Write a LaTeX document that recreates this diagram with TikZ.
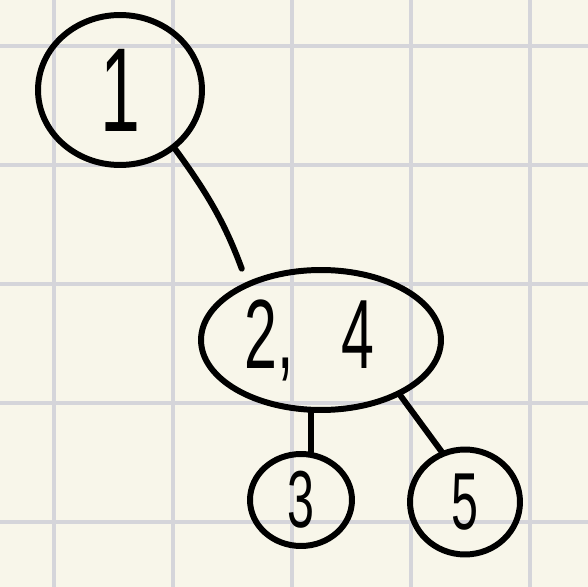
\documentclass[tikz,border=0pt]{standalone}
\usepackage{fontspec}
\setmainfont{Liberation Sans}
\usepackage{graphicx}
\usetikzlibrary{shapes.geometric}
\definecolor{paper}{HTML}{F8F6EA}
\definecolor{gridgray}{HTML}{D5D5DA}
\newcommand{\digits}[2]{\scalebox{0.6}[1]{\fontsize{#1}{#1}\selectfont #2}}

\begin{document}
\begin{tikzpicture}[
    x=0.02cm, y=-0.02cm,
    vtx/.style={
        draw,
        ellipse,
        line width=3.4pt,
        inner sep=0pt
    },
    edge/.style={line width=3.4pt, line cap=round}
]
\fill[paper] (0,0) rectangle (588,587);
\useasboundingbox (0,0) rectangle (588,587);

%==========================
% grid paper
%==========================
\foreach \g in {54,173,292,411,530}{
    \draw[gridgray, line width=2pt] (\g,0) -- (\g,587);
    \draw[gridgray, line width=2pt] (0,\g-8) -- (588,\g-8);
}

%==========================
% tree
%==========================
\node[vtx, minimum width=3.28cm, minimum height=3.0cm] (n1) at (120,90)
{\digits{68pt}{1}};
\node[vtx, minimum width=4.8cm, minimum height=2.8cm] (n24) at (321,340)
{\digits{56pt}{2,\hspace{0.8em}4\hspace{0.4em}}};
\node[vtx, minimum width=2.04cm, minimum height=1.84cm] (n3) at (301,500)
{\digits{46pt}{3}};
\node[vtx, minimum width=2.2cm, minimum height=2.1cm] (n5) at (465,502)
{\digits{46pt}{5}};

\draw[edge, shorten >=8pt] (n1.-47) to[bend left=8] (n24.142);
\draw[edge] (n3.78) -- (n3.78 |- n24.south);
\draw[edge] (n24.-35) -- (n5.115);

\end{tikzpicture}
\end{document}
